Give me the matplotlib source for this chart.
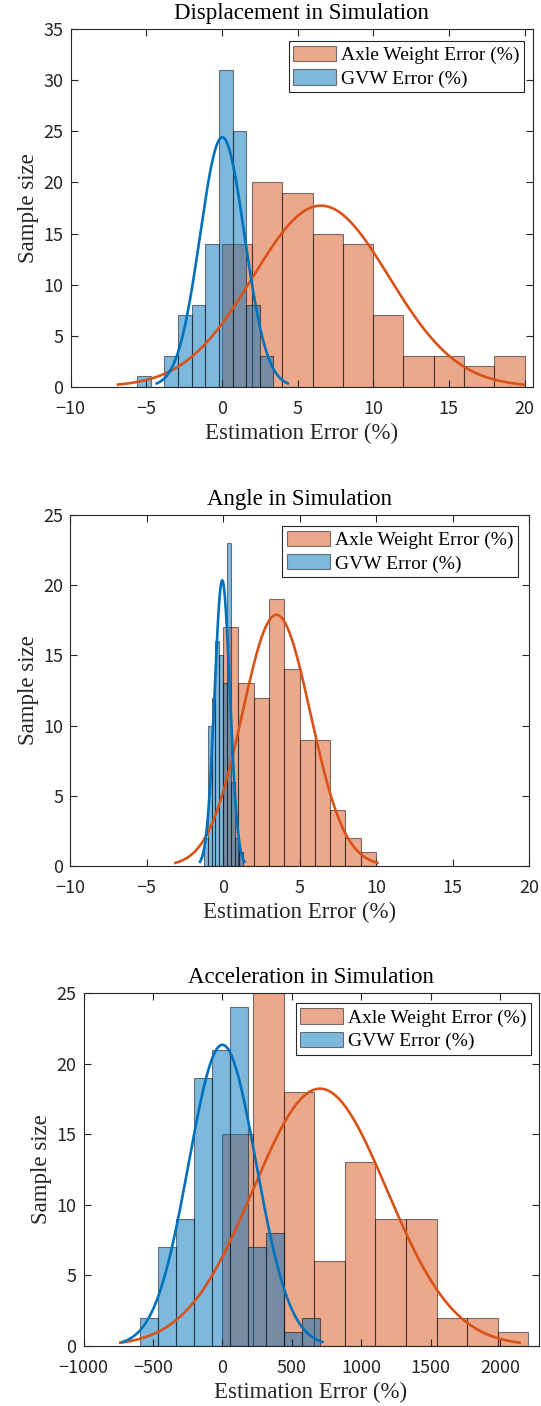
import numpy as np
import matplotlib
matplotlib.use("Agg")
import matplotlib.pyplot as plt
from matplotlib.patches import Patch

# ---------------- data ----------------
titles = ["Displacement in Simulation", "Angle in Simulation", "Acceleration in Simulation"]
series_labels = ["Axle Weight Error (%)", "GVW Error (%)"]

disp_axle_edges = [0, 2, 4, 6, 8, 10, 12, 14, 16, 18, 20]
disp_axle_counts = [14, 20, 19, 15, 14, 7, 3, 3, 2, 3]
disp_gvw_edges = [-5.59, -4.69, -3.79, -2.89, -1.99, -1.09, -0.19, 0.71, 1.61, 2.51, 3.41]
disp_gvw_counts = [1, 0, 3, 7, 8, 14, 31, 25, 8, 3]
disp_fit_mu = [6.55, 0.03]
disp_fit_sigma = [4.5, 1.47]

angle_axle_edges = [0, 1, 2, 3, 4, 5, 6, 7, 8, 9, 10]
angle_axle_counts = [17, 13, 12, 19, 14, 9, 9, 4, 2, 1]
angle_gvw_edges = [-1.26, -1.005, -0.75, -0.495, -0.24, 0.015, 0.27, 0.525, 0.78, 1.035, 1.29]
angle_gvw_counts = [2, 10, 12, 16, 15, 13, 23, 6, 2, 1]
angle_fit_mu = [3.49, -0.05]
angle_fit_sigma = [2.23, 0.50]

acc_axle_edges = [0, 220, 440, 661, 881, 1101, 1322, 1542, 1762, 1983, 2203]
acc_axle_counts = [15, 25, 18, 6, 13, 9, 9, 2, 2, 1]
acc_gvw_edges = [-595, -465, -335, -205, -75, 55, 185, 315, 445, 575, 705]
acc_gvw_counts = [2, 7, 9, 19, 21, 24, 7, 8, 1, 2]
acc_fit_mu = [702, 0]
acc_fit_sigma = [482, 243]

xlims = [(-10, 20.56), (-10, 20), (-1000, 2275)]
xticks = [[-10, -5, 0, 5, 10, 15, 20], [-10, -5, 0, 5, 10, 15, 20],
          [-1000, -500, 0, 500, 1000, 1500, 2000]]
ylims = [(0, 35), (0, 25), (0, 25)]
yticks = [[0, 5, 10, 15, 20, 25, 30, 35], [0, 5, 10, 15, 20, 25], [0, 5, 10, 15, 20, 25]]

# ---------------- style ----------------
SERIF = ["Liberation Serif", "DejaVu Serif"]
SANS = ["Noto Sans CJK JP", "DejaVu Sans"]
ORANGE = (0.85, 0.325, 0.098)
BLUE = (0.0, 0.447, 0.741)
AXC = (0.15, 0.15, 0.15)

W, H = 541, 1406
fig = plt.figure(figsize=(W / 100, H / 100), dpi=100)

# axes boxes in pixels: left, right, top, bottom
boxes = [(70.5, 533, 29.3, 386.7), (70, 529, 515, 866), (83.5, 538.5, 993.3, 1345.7)]
leg_anchor = [(0.9816, 0.968), (0.976, 0.9695), (0.9844, 0.9716)]

datasets = [
    (disp_axle_edges, disp_axle_counts, disp_gvw_edges, disp_gvw_counts, disp_fit_mu, disp_fit_sigma),
    (angle_axle_edges, angle_axle_counts, angle_gvw_edges, angle_gvw_counts, angle_fit_mu, angle_fit_sigma),
    (acc_axle_edges, acc_axle_counts, acc_gvw_edges, acc_gvw_counts, acc_fit_mu, acc_fit_sigma),
]


def draw_hist(ax, edges, counts, color):
    e = np.asarray(edges, float)
    ax.bar(e[:-1], counts, width=np.diff(e), align="edge",
           facecolor=(*color, 0.5), edgecolor=(0, 0, 0, 0.5), linewidth=0.8)


def draw_fit(ax, edges, counts, mu, sigma, color):
    e = np.asarray(edges, float)
    n = float(np.sum(counts))
    bw = float(np.mean(np.diff(e)))
    x = np.linspace(mu - 3 * sigma, mu + 3 * sigma, 200)
    y = n * bw * np.exp(-0.5 * ((x - mu) / sigma) ** 2) / (sigma * np.sqrt(2 * np.pi))
    ax.plot(x, y, color=color, lw=1.9, solid_capstyle="butt")


for i, (box, ds) in enumerate(zip(boxes, datasets)):
    l, r, t, b = box
    ax = fig.add_axes([l / W, 1 - b / H, (r - l) / W, (b - t) / H])
    ae, ac, ge, gc, mus, sigs = ds
    draw_hist(ax, ae, ac, ORANGE)
    draw_fit(ax, ae, ac, mus[0], sigs[0], ORANGE)
    draw_hist(ax, ge, gc, BLUE)
    draw_fit(ax, ge, gc, mus[1], sigs[1], BLUE)

    ax.set_xlim(*xlims[i])
    ax.set_ylim(*ylims[i])
    ax.set_xticks(xticks[i])
    ax.set_yticks(yticks[i])
    ax.tick_params(direction="in", length=5, width=0.8, color=AXC, top=True, right=True,
                   labelsize=13, labelcolor=AXC)
    ax.tick_params(axis="x", pad=9.5)
    ax.tick_params(axis="y", pad=5)
    for lab in ax.get_xticklabels() + ax.get_yticklabels():
        lab.set_fontfamily(SANS)
    for sp in ax.spines.values():
        sp.set_color(AXC)
        sp.set_linewidth(0.8)

    ax.set_title(titles[i], fontfamily=SERIF, fontsize=16.5, color="black", pad=7.5)
    ax.set_xlabel("Estimation Error (%)", fontfamily=SERIF, fontsize=16.5, color=AXC, labelpad=3.5)
    ax.set_ylabel("Sample size", fontfamily=SERIF, fontsize=16.5, color=AXC, labelpad=3)

    handles = [Patch(facecolor=(*ORANGE, 0.5), edgecolor=(0, 0, 0, 0.5), lw=0.8),
               Patch(facecolor=(*BLUE, 0.5), edgecolor=(0, 0, 0, 0.5), lw=0.8)]
    leg = ax.legend(handles, series_labels, loc="upper right", bbox_to_anchor=leg_anchor[i],
                    borderaxespad=0, fancybox=False, framealpha=1, edgecolor=AXC,
                    prop={"family": SERIF, "size": 14}, handlelength=2.2, handleheight=0.85,
                    handletextpad=0.25, labelspacing=0.25, borderpad=0.25)
    leg.get_frame().set_linewidth(0.8)

fig.savefig("out.png", dpi=100)
